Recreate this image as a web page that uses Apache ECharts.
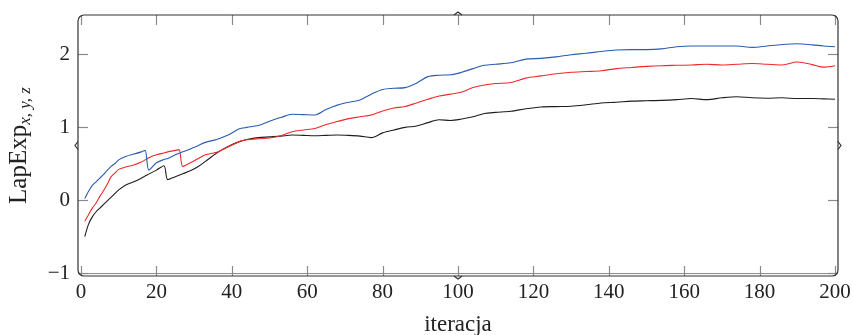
<!DOCTYPE html>
<html>
<head>
<meta charset="utf-8">
<script src="https://cdn.jsdelivr.net/npm/echarts@6/dist/echarts.min.js"></script>
<style>html,body{margin:0;padding:0;background:#fff;}#c{width:853px;height:335px;}</style>
</head>
<body>
<div id="c"></div>
<script>
const iterations = [1,2,3,4,5,6,7,8,9,10,12,14,16,17,18,20,22,23,25,26,27,29,31,33,36,39,42,44,47,50,53,56,59,62,65,68,71,74,77,80,83,86,89,92,95,98,101,104,107,110,114,118,122,126,130,134,138,142,146,150,154,158,162,166,170,174,178,182,186,190,194,197,200];
const blueValues = [0.02,0.12,0.20,0.25,0.30,0.35,0.41,0.46,0.50,0.55,0.60,0.63,0.66,0.68,0.41,0.51,0.555,0.57,0.62,0.64,0.66,0.70,0.745,0.79,0.83,0.89,0.975,0.995,1.02,1.08,1.13,1.175,1.17,1.165,1.24,1.30,1.34,1.37,1.45,1.515,1.53,1.54,1.60,1.69,1.71,1.715,1.75,1.80,1.845,1.86,1.88,1.93,1.94,1.96,1.99,2.01,2.035,2.055,2.06,2.06,2.07,2.10,2.11,2.11,2.11,2.11,2.09,2.11,2.13,2.14,2.125,2.11,2.10];
const redValues = [-0.29,-0.20,-0.11,-0.04,0.05,0.13,0.22,0.32,0.37,0.42,0.455,0.48,0.52,0.55,0.58,0.62,0.645,0.66,0.68,0.69,0.46,0.51,0.565,0.62,0.655,0.725,0.80,0.825,0.84,0.85,0.88,0.935,0.96,0.98,1.035,1.075,1.115,1.14,1.165,1.22,1.26,1.28,1.33,1.38,1.425,1.45,1.48,1.54,1.575,1.595,1.61,1.67,1.70,1.73,1.75,1.76,1.77,1.80,1.815,1.83,1.84,1.845,1.85,1.86,1.85,1.86,1.87,1.86,1.85,1.89,1.855,1.82,1.84];
const blackValues = [-0.50,-0.33,-0.23,-0.16,-0.11,-0.06,-0.01,0.04,0.09,0.14,0.21,0.25,0.30,0.33,0.355,0.41,0.47,0.28,0.32,0.34,0.36,0.40,0.455,0.53,0.645,0.735,0.80,0.83,0.855,0.865,0.875,0.89,0.885,0.88,0.885,0.89,0.885,0.875,0.855,0.92,0.96,0.995,1.015,1.06,1.10,1.09,1.11,1.14,1.185,1.20,1.215,1.25,1.275,1.28,1.285,1.305,1.33,1.34,1.355,1.36,1.365,1.375,1.39,1.375,1.40,1.415,1.40,1.395,1.40,1.39,1.39,1.385,1.38];
const xTicks = [0,20,40,60,80,100,120,140,160,180,200];
const yTicks = [-1,0,1,2];
const xLabel = 'iteracja';
const yLabelMain = 'LapExp';
const yLabelSub = 'x, y, z';

const FONT = 'Liberation Serif';
const TICK_COLOR = '#8a8a8a';
const pairs = vals => iterations.map((x, i) => [x, vals[i]]);
const tickStyle = () => ({show: true, inside: true, length: 10, lineStyle: {color: TICK_COLOR, width: 1.2}});
const noLine = {show: false, onZero: false};

const chart = echarts.init(document.getElementById('c'), null, {renderer: 'canvas'});
const option = {
  animation: false,
  backgroundColor: '#fff',
  grid: {left: 78, right: 15, top: 15, bottom: 59, show: false, containLabel: false, outerBoundsMode: 'none'},
  xAxis: [{
    type: 'value', min: -0.8, max: 200.8, position: 'bottom',
    axisLine: noLine, splitLine: {show: false},
    axisTick: {show: false},
    axisLabel: {customValues: xTicks, fontFamily: FONT, fontSize: 21, color: '#222', margin: 6},
    name: xLabel, nameLocation: 'middle', nameGap: 37,
    nameTextStyle: {fontFamily: FONT, fontSize: 23, color: '#222'}
  }],
  yAxis: [{
    type: 'value', min: -1.04, max: 2.534, position: 'left',
    axisLine: noLine, splitLine: {show: false},
    axisTick: Object.assign({customValues: yTicks}, tickStyle()),
    axisLabel: {customValues: yTicks, fontFamily: FONT, fontSize: 21, color: '#222', margin: 8,
      formatter: v => String(v).replace('-', '\u2212')},
    name: '{a|' + yLabelMain + '}{b|' + yLabelSub + '}',
    nameLocation: 'middle', nameRotate: 90, nameGap: 44,
    nameTextStyle: {
      rich: {
        a: {fontFamily: FONT, fontSize: 25, color: '#222', lineHeight: 30, verticalAlign: 'middle'},
        b: {fontFamily: FONT, fontStyle: 'italic', fontSize: 17, color: '#222', lineHeight: 17, verticalAlign: 'bottom'}
      }
    }
  }, {
    type: 'value', min: -1.04, max: 2.534, position: 'right',
    axisLine: noLine, splitLine: {show: false},
    axisTick: Object.assign({customValues: yTicks}, tickStyle()),
    axisLabel: {show: false}
  }],
  series: [
    {type: 'line', data: pairs(blackValues), smooth: 0.3, showSymbol: false, lineStyle: {color: '#1e1e1e', width: 1.1}},
    {type: 'line', data: pairs(redValues), smooth: 0.3, showSymbol: false, lineStyle: {color: '#f0282a', width: 1.1}},
    {type: 'line', data: pairs(blueValues), smooth: 0.3, showSymbol: false, lineStyle: {color: '#2a5caf', width: 1.1}}
  ]
};
chart.setOption(option);

// decorative rounded frame, brace bumps and x ticks, placed through the axis scale
const toPx = (x, y) => chart.convertToPixel({xAxisIndex: 0, yAxisIndex: 0}, [x, y]);
const p0 = toPx(-0.8, -1.04);
const p1 = toPx(200.8, 2.534);
const pm1 = toPx(0, -1);
const L = p0[0], B = p0[1], R = p1[0], T = p1[1];
const cx = (L + R) / 2, cy = (T + B) / 2;
const frameStyle = {stroke: '#333', lineWidth: 1.2, fill: 'none'};
const bump = pts => ({type: 'polyline', silent: true, z: 100, shape: {points: pts}, style: {stroke: '#333', lineWidth: 1.2, fill: 'none'}});
const graphics = [
  {type: 'rect', silent: true, z: 100, shape: {x: L, y: T, width: R - L, height: B - T, r: 6}, style: frameStyle},
  {type: 'line', silent: true, z: 100, shape: {x1: L + 5, y1: pm1[1] + 0.5, x2: R - 5, y2: pm1[1] + 0.5}, style: {stroke: '#888', lineWidth: 1}},
  bump([[cx - 4, T], [cx, T - 3], [cx + 4, T]]),
  bump([[cx - 4, B], [cx, B + 3], [cx + 4, B]]),
  bump([[L, cy - 4], [L - 3, cy], [L, cy + 4]]),
  bump([[R, cy - 4], [R + 3, cy], [R, cy + 4]])
];
xTicks.forEach(v => {
  const px = Math.round(toPx(v, 0)[0]) + 0.5;
  graphics.push({type: 'line', silent: true, z: 99, shape: {x1: px, y1: B, x2: px, y2: B - 10}, style: {stroke: TICK_COLOR, lineWidth: 1.2}});
  graphics.push({type: 'line', silent: true, z: 99, shape: {x1: px, y1: T, x2: px, y2: T + 10}, style: {stroke: TICK_COLOR, lineWidth: 1.2}});
});
chart.setOption({graphic: graphics});
</script>
</body>
</html>
